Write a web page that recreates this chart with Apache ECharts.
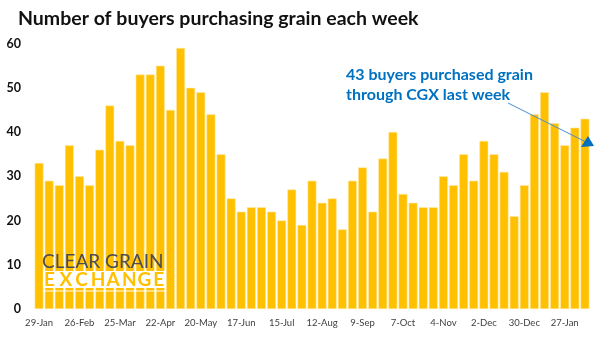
<!DOCTYPE html>
<html><head><meta charset="utf-8">
<script src="https://cdn.jsdelivr.net/npm/echarts@6/dist/echarts.min.js"></script>
<style>html,body{margin:0;padding:0;background:#fff}#c{width:602px;height:342px}</style>
</head><body><div id="c"></div>
<script>
var weeks = ['29-Jan','5-Feb','12-Feb','19-Feb','26-Feb','5-Mar','12-Mar','19-Mar','25-Mar','1-Apr','8-Apr','15-Apr','22-Apr','29-Apr','6-May','13-May','20-May','27-May','3-Jun','10-Jun','17-Jun','24-Jun','1-Jul','8-Jul','15-Jul','22-Jul','29-Jul','5-Aug','12-Aug','19-Aug','26-Aug','2-Sep','9-Sep','16-Sep','23-Sep','30-Sep','7-Oct','14-Oct','21-Oct','28-Oct','4-Nov','11-Nov','18-Nov','25-Nov','2-Dec','9-Dec','16-Dec','23-Dec','30-Dec','6-Jan','13-Jan','20-Jan','27-Jan','3-Feb','10-Feb'];
var buyers = [33,29,28,37,30,28,36,46,38,37,53,53,55,45,59,50,49,44,35,25,22,23,23,22,20,27,19,29,24,25,18,29,32,22,34,40,26,24,23,23,30,28,35,29,38,35,31,21,28,44,49,42,37,41,43];
var yTicks = [0,10,20,30,40,50,60];
var titleText = 'Number of buyers purchasing grain each week';
var noteLines = ['43 buyers purchased grain','through CGX last week'];
var logoTop = 'CLEAR GRAIN';
var logoBottom = 'EXCHANGE';

var chart = echarts.init(document.getElementById('c'), null, {renderer:'canvas'});
var graphics = [
  {type:'rect',shape:{x:43,y:271,width:123,height:17},style:{fill:'#ffffff'},z:10},
  {type:'rect',shape:{x:43,y:290.5,width:123,height:1},style:{fill:'#ffffff'},z:10},
  {type:'text',left:42,top:252,z:11,style:{text:logoTop,font:'19px Lato',fill:'#4D4D4F'}},
  {type:'text',left:346,top:67,z:12,style:{text:noteLines[0],font:'bold 16px Lato',fill:'#0070C0'}},
  {type:'text',left:346,top:87,z:12,style:{text:noteLines[1],font:'bold 16px Lato',fill:'#0070C0'}},
  {type:'line',z:12,shape:{x1:508,y1:103,x2:586,y2:142},style:{stroke:'#4A8FD0',lineWidth:1}},
  {type:'polygon',z:12,shape:{points:[[594,146],[581,147],[588,136]]},style:{fill:'#0070C0'}}
];
for (var i = 0; i < logoBottom.length; i++) {
  graphics.push({type:'text',z:11,x:44 + i*15.6,y:270,style:{text:logoBottom[i],font:'bold 19px Lato',fill:'#FFC000'}});
}
chart.setOption({
  animation:false,
  backgroundColor:'#ffffff',
  title:{text:titleText,left:13,top:4,textStyle:{fontFamily:'Lato',fontWeight:'bold',fontSize:19.5,color:'#111'}},
  grid:{left:34,right:12,top:43.5,bottom:33,containLabel:false},
  xAxis:{type:'category',data:weeks,
    axisLine:{show:false},axisTick:{show:false},
    axisLabel:{interval:3,fontFamily:'Lato',fontSize:9.5,color:'#404040',margin:9}},
  yAxis:{type:'value',min:yTicks[0],max:yTicks[yTicks.length-1],interval:10,
    splitLine:{show:false},axisLine:{show:false},axisTick:{show:false},
    axisLabel:{fontFamily:'Lato',fontWeight:'bold',fontSize:12.5,color:'#111',margin:13}},
  series:[{type:'bar',data:buyers,barCategoryGap:'12%',
    itemStyle:{color:'#FFC000',borderColor:'#FFE9A8',borderWidth:0.6}}],
  graphic:graphics
});
</script></body></html>
